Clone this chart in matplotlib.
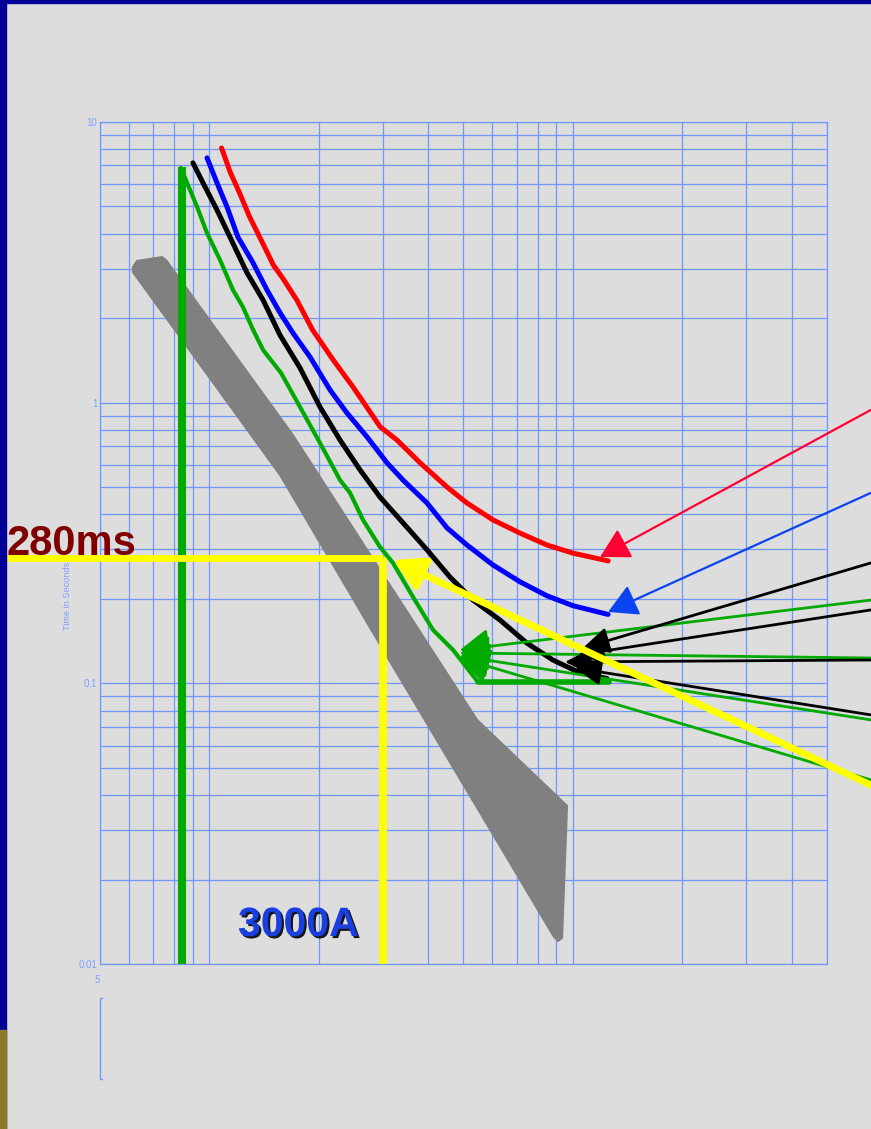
#время-токовые характеристики автоматов, лог-лог сетка
import numpy as np
import matplotlib.pyplot as plt
import matplotlib.patheffects as pe
from matplotlib.patches import Rectangle
from matplotlib.lines import Line2D
from matplotlib.ticker import LogLocator, NullFormatter

# кривые: ток (А) и время (с)
red_amps = [1080, 1140, 1210, 1290, 1400, 1500, 1590, 1740, 1920, 2190, 2480, 2950, 3280, 3800,
            4500, 5110, 6030, 7150, 8490, 10000, 12500]
red_secs = [8.08, 6.64, 5.59, 4.59, 3.71, 3.09, 2.78, 2.32, 1.82, 1.42, 1.14, 0.82, 0.736, 0.61,
            0.501, 0.439, 0.382, 0.343, 0.311, 0.291, 0.273]

blue_amps = [985, 1049, 1118, 1198, 1318, 1440, 1564, 1698, 1891, 2147, 2390, 2714, 3081, 3409,
             3968, 4504, 5113, 6029, 7153, 8487, 10007, 12495]
blue_secs = [7.45, 6.07, 4.98, 3.89, 3.15, 2.52, 2.09, 1.77, 1.455, 1.11, 0.919, 0.755, 0.61, 0.53,
             0.439, 0.358, 0.311, 0.264, 0.23, 0.205, 0.189, 0.176]

black_amps = [901, 960, 1049, 1139, 1269, 1405, 1564, 1775, 2015, 2287, 2596, 2946, 3409, 3968,
              4591, 5311, 6303, 7477, 8817, 10459, 12414]
black_secs = [7.15, 6.07, 4.86, 3.89, 2.90, 2.32, 1.74, 1.33, 0.965, 0.736, 0.576, 0.461, 0.373,
              0.299, 0.239, 0.198, 0.168, 0.139, 0.121, 0.109, 0.104]

green_amps = [835, 868, 925, 985, 1070, 1161, 1237, 1318, 1405, 1574, 1775, 2015, 2287, 2437,
              2646, 2946, 3199, 3632, 4122, 4679, 5483, 12572]
green_secs = [6.86, 6.07, 4.98, 4.02, 3.22, 2.52, 2.19, 1.82, 1.54, 1.276, 0.965, 0.718, 0.53,
              0.477, 0.382, 0.306, 0.2685, 0.203, 0.155, 0.1315, 0.101, 0.101]

# вертикаль зелёной кривой (ток срабатывания)
pickup_amps = 840
pickup_secs = [6.9, 0.01]

# серая полоса
band_amps = [616, 632, 741, 760, 1688, 5448, 9634, 9333, 9099, 8872, 3240, 1564, 616]
band_secs = [3.04, 3.20, 3.30, 3.22, 0.774, 0.0741, 0.0366, 0.01238, 0.01208, 0.01249, 0.1116,
             0.5526, 2.92]

# отметка 3000 А / 280 мс
mark_amps = 3000
mark_secs = 0.28
mark_left_amps = 277

# стрелки: (хвост, острие)
arrow_tail_amps = 66000
red_arrow = [(0.942, (11875, 0.282))]
blue_arrow = [(0.477, (12495, 0.1796))]
black_arrows = [(0.2685, (10662, 0.1337)), (0.1826, (10328, 0.1262)),
                (0.1211, (9512, 0.1192)), (0.0772, (10134, 0.1134))]
green_arrows = [(0.198, (4891, 0.1315)), (0.1231, (4891, 0.1283)),
                (0.0741, (4891, 0.1252)), (0.0453, (4891, 0.1231))]
yellow_arrow = [(0.0434, (3199, 0.2752))]

bg = '#dddddd'
gridc = '#7096ff'
labc = '#7f9fff'

fig = plt.figure(figsize=(8.71, 11.29), dpi=100, facecolor=bg)
ax = fig.add_axes([0.11481, 0.14615, 0.83467, 0.74579])
ax.set_facecolor(bg)
ax.set_xscale('log')
ax.set_yscale('log')
ax.set_xlim(500, 50000)
ax.set_ylim(0.01, 10)

ax.xaxis.set_minor_locator(LogLocator(base=10, subs=np.arange(2, 10), numticks=50))
ax.yaxis.set_minor_locator(LogLocator(base=10, subs=np.arange(2, 10), numticks=50))
ax.xaxis.set_minor_formatter(NullFormatter())
ax.yaxis.set_minor_formatter(NullFormatter())
ax.grid(which='both', color=gridc, lw=0.9)
ax.set_axisbelow(True)
for s in ax.spines.values():
    s.set_color(gridc)
    s.set_linewidth(0.9)
ax.tick_params(which='both', length=0, labelbottom=False, pad=2)
ax.set_yticks([0.01, 0.1, 1, 10])
ax.set_yticklabels(['0.01', '0.1', '1', '10'], color=labc, fontsize=7, family='Liberation Sans')

ax.set_ylabel('Time in Seconds', color=labc, fontsize=6.6, family='Liberation Sans')
ax.yaxis.set_label_coords(-28 / 727, 368 / 842)
ax.text(500, -0.019, '5', transform=ax.get_xaxis_transform(), ha='right', va='center',
        color=labc, fontsize=7, family='Liberation Sans')

# полоса
ax.fill(band_amps, band_secs, color='#808080', lw=1.5, joinstyle='round', zorder=2)

# кривые
kw = dict(solid_capstyle='round', solid_joinstyle='round', zorder=3)
ax.plot(red_amps, red_secs, color='#ff0000', lw=3.6, **kw)
ax.plot(blue_amps, blue_secs, color='#0000ff', lw=3.6, **kw)
ax.plot(black_amps, black_secs, color='#000000', lw=3.6, **kw)
ax.plot(green_amps[:-1], green_secs[:-1], color='#00aa00', lw=3.0, **kw)
ax.plot(green_amps[-2:], green_secs[-2:], color='#00aa00', lw=4.0, **kw)
ax.plot([pickup_amps, pickup_amps], pickup_secs, color='#00aa00', lw=5.8, zorder=3,
        solid_capstyle='butt')


def arrows(items, color, lw, hl, hw, z):
    for tail, tip in items:
        ax.annotate('', xy=tip, xytext=(arrow_tail_amps, tail), annotation_clip=False,
                    arrowprops=dict(arrowstyle='-|>,head_length=%s,head_width=%s' % (hl, hw),
                                    mutation_scale=20, lw=lw, color=color,
                                    shrinkA=0, shrinkB=0), zorder=z)


arrows(green_arrows, '#00aa00', 2.0, 0.9, 0.55, 4)
arrows(black_arrows, '#000000', 2.0, 0.8, 0.4, 4)
arrows(red_arrow, '#ff0033', 1.6, 0.9, 0.5, 4)
arrows(blue_arrow, '#0a44f0', 1.6, 0.9, 0.5, 4)

# линии 3000 А / 280 мс
ax.plot([mark_left_amps, mark_amps], [mark_secs, mark_secs], color='#ffff00', lw=5,
        solid_capstyle='butt', clip_on=False, zorder=5)
ax.plot([mark_amps, mark_amps], [mark_secs, 0.01], color='#ffff00', lw=5.5,
        solid_capstyle='butt', zorder=5)
arrows(yellow_arrow, '#ffff00', 5, 0.9, 0.5, 5)

fig.text(7 / 871, 1 - 555 / 1129, '280ms', color='#800000', fontsize=30, fontweight='bold',
         family='Liberation Sans', ha='left', va='baseline')
ax.text(138 / 727, 28 / 842, '3000A', transform=ax.transAxes, color='#1a3fe0', fontsize=29.5,
        fontweight='bold', family='Liberation Sans', ha='left', va='baseline',
        path_effects=[pe.withSimplePatchShadow(offset=(1.5, -1.5), shadow_rgbFace='black',
                                               alpha=0.9)])

# отрезок оси внизу
fig.add_artist(Line2D([102 / 871, 100 / 871, 100 / 871, 102 / 871],
                      [1 - 998 / 1129, 1 - 998 / 1129, 1 - 1079 / 1129, 1 - 1079 / 1129],
                      transform=fig.transFigure, color=gridc, lw=1))

# рамка слайда
fig.patches.append(Rectangle((0, 0), 6 / 871, 1, transform=fig.transFigure,
                             color='#000096', zorder=10))
fig.patches.append(Rectangle((0, 1 - 3 / 1129), 1, 3 / 1129, transform=fig.transFigure,
                             color='#000096', zorder=10))
fig.patches.append(Rectangle((0, 0), 6 / 871, 99 / 1129, transform=fig.transFigure,
                             color='#8c7a2a', zorder=11))

fig.savefig('out.png', dpi=100, facecolor=bg)
